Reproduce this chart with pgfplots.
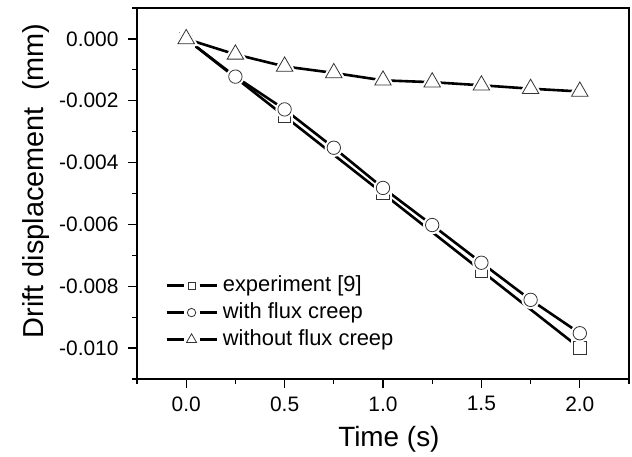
\documentclass[border=0pt]{standalone}
\usepackage{fontspec}
\setmainfont{Liberation Sans}
\usepackage{pgfplots}
\pgfplotsset{compat=1.18}
\usepackage{pgfplotstable}

\pgfplotstableread{
t d
0.0 0.0000
0.5 -0.0025
1.0 -0.0050
1.5 -0.0075
2.0 -0.0100
}\expdata
\pgfplotstableread{
t d
0.00 0.00000
0.25 -0.00122
0.50 -0.00228
0.75 -0.00352
1.00 -0.00482
1.25 -0.00602
1.50 -0.00724
1.75 -0.00844
2.00 -0.00952
}\creepdata
\pgfplotstableread{
t d
0.00 0.00000
0.25 -0.00050
0.50 -0.00089
0.75 -0.00110
1.00 -0.00134
1.25 -0.00140
1.50 -0.00150
1.75 -0.00161
2.00 -0.00170
}\nocreepdata

\begin{document}
\begin{tikzpicture}
\begin{axis}[
  scale only axis, width=492bp, height=371bp,
  xmin=-0.25, xmax=2.25, ymin=-0.011, ymax=0.001,
  xtick={0,0.5,1,1.5,2},
  minor xtick={-0.25,0.25,0.75,1.25,1.75,2.25},
  ytick={-0.010,-0.008,-0.006,-0.004,-0.002,0},
  minor ytick={-0.011,-0.009,-0.007,-0.005,-0.003,-0.001,0.001},
  tick align=outside, xtick pos=left, ytick pos=left,
  major tick length=9bp, minor tick length=5bp,
  axis line style={line width=1.3bp},
  every tick/.style={line width=1.3bp, black},
  scaled y ticks=false,
  /pgf/number format/assume math mode=true,
  yticklabel style={xshift=-6bp, /pgf/number format/fixed, /pgf/number format/fixed zerofill, /pgf/number format/precision=3},
  xticklabel style={yshift=-5bp, /pgf/number format/fixed, /pgf/number format/fixed zerofill, /pgf/number format/precision=1},
  tick label style={font=\fontsize{21}{25}\selectfont},
  xlabel={Time (s)},
  ylabel={Drift displacement\ \ (mm)},
  xlabel style={font=\fontsize{28}{33}\selectfont, at={(axis description cs:0.512,-0.183)}, anchor=base},
  ylabel style={font=\fontsize{29}{34}\selectfont, at={(axis description cs:-0.191,0.534)}, anchor=base},
  legend style={at={(axis description cs:0.057,0.179)}, anchor=west, draw=none, fill=none,
    inner sep=0pt, row sep=4bp, column sep=4bp,
    nodes={font=\fontsize{22}{26}\selectfont, inner sep=1bp, text height=16bp, text depth=5bp}},
  legend cell align=left,
]
% experiment
\addplot[forget plot, line width=2.6bp, black, no marks] table[x=t,y=d] {\expdata};
\addplot[forget plot, only marks, mark=square*, mark size=6.3bp, mark options={draw=white, fill=white, line width=5bp}] table[x=t,y=d] {\expdata};
\addplot[forget plot, only marks, mark=square*, mark size=6.3bp, mark options={draw=black!80, fill=white, line width=0.8bp}] table[x=t,y=d] {\expdata};
% with flux creep
\addplot[forget plot, line width=2.6bp, black, no marks] table[x=t,y=d] {\creepdata};
\addplot[forget plot, only marks, mark=*, mark size=6.7bp, mark options={draw=white, fill=white, line width=5bp}] table[x=t,y=d] {\creepdata};
\addplot[forget plot, only marks, mark=*, mark size=6.7bp, mark options={draw=black!80, fill=white, line width=0.8bp}] table[x=t,y=d] {\creepdata};
% without flux creep
\addplot[forget plot, line width=2.6bp, black, no marks] table[x=t,y=d] {\nocreepdata};
\addplot[forget plot, only marks, mark=triangle*, mark size=9.5bp, mark options={draw=white, fill=white, line width=5bp}] table[x=t,y=d] {\nocreepdata};
\addplot[forget plot, only marks, mark=triangle*, mark size=9.5bp, mark options={draw=black!80, fill=white, line width=0.8bp}] table[x=t,y=d] {\nocreepdata};

\addlegendimage{legend image code/.code={
  \draw[line width=2.6bp, black] (0bp,0bp) -- (17bp,0bp) (33bp,0bp) -- (50bp,0bp);
  \draw plot[only marks, mark=square*, mark size=3.5bp, mark options={draw=black!80, fill=white, line width=0.8bp}] coordinates {(25bp,0bp)};}}
\addlegendentry{experiment [9]}
\addlegendimage{legend image code/.code={
  \draw[line width=2.6bp, black] (0bp,0bp) -- (17bp,0bp) (33bp,0bp) -- (50bp,0bp);
  \draw plot[only marks, mark=*, mark size=4.2bp, mark options={draw=black!80, fill=white, line width=0.8bp}] coordinates {(25bp,0bp)};}}
\addlegendentry{with flux creep}
\addlegendimage{legend image code/.code={
  \draw[line width=2.6bp, black] (0bp,0bp) -- (17bp,0bp) (33bp,0bp) -- (50bp,0bp);
  \draw plot[only marks, mark=triangle*, mark size=5.8bp, mark options={draw=black!80, fill=white, line width=0.8bp}] coordinates {(25bp,0bp)};}}
\addlegendentry{without flux creep}
\end{axis}
\pgfresetboundingbox
\useasboundingbox ([xshift=-137bp, yshift=-78bp]current axis.south west) rectangle ([xshift=3bp, yshift=8bp]current axis.north east);
\end{tikzpicture}
\end{document}
